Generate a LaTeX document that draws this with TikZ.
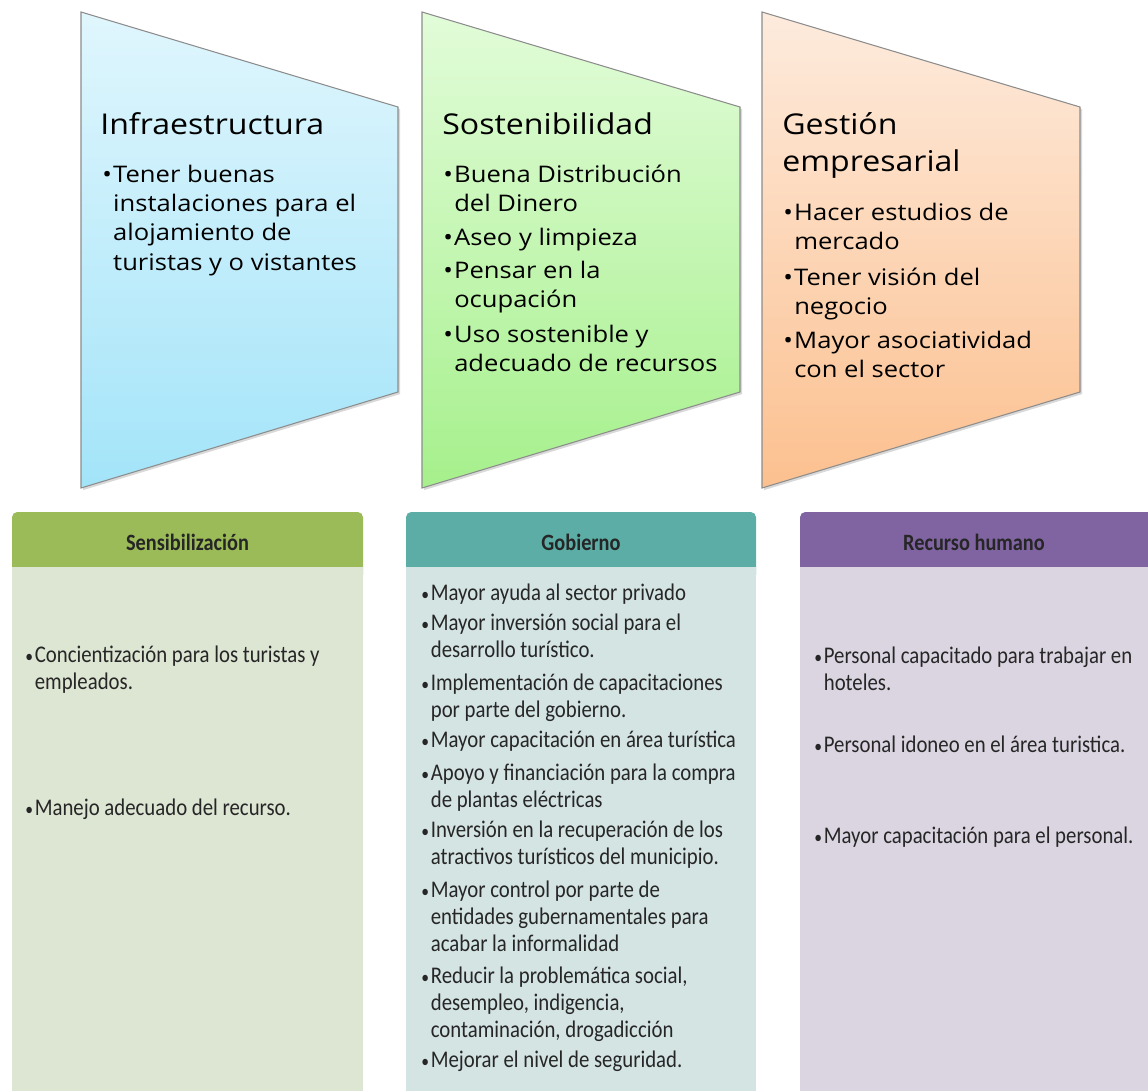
\documentclass[tikz,border=0pt]{standalone}
\usepackage{fontspec}
\usetikzlibrary{shadows,positioning}
\setmainfont{Open Sans}
\newfontfamily\trapfont[FakeStretch=1.12]{Open Sans}
\newfontfamily\boxfont[FakeStretch=0.87]{Carlito}
\definecolor{trapline}{HTML}{8C8C8C}
\definecolor{infratop}{HTML}{E0F6FD}
\definecolor{infrabot}{HTML}{A3E4F9}
\definecolor{sosttop}{HTML}{E2FCD9}
\definecolor{sostbot}{HTML}{A6F08C}
\definecolor{gesttop}{HTML}{FDEBDD}
\definecolor{gestbot}{HTML}{FCC08F}
\definecolor{sensgreen}{HTML}{9BBB59}
\definecolor{sensbody}{HTML}{DDE5D3}
\definecolor{gobteal}{HTML}{5BADA6}
\definecolor{gobbody}{HTML}{D4E4E3}
\definecolor{recpurple}{HTML}{8064A2}
\definecolor{recbody}{HTML}{DBD5E1}
\newcommand{\itm}[2]{\makebox[#1][l]{\textbullet}\begin{tabular}[t]{@{}l@{}}#2\end{tabular}}
\newcommand{\bitm}[1]{\makebox[5.4pt][l]{\scalebox{0.75}{\textbullet}}\begin{tabular}[t]{@{}l@{}}#1\end{tabular}}

\begin{document}
\begin{tikzpicture}[x=0.02cm,y=-0.02cm,
  trap/.style={draw=trapline,line width=0.6pt,
               drop shadow={shadow xshift=1.2pt,shadow yshift=-1.2pt,opacity=.3}},
  ttl/.style={anchor=base west,inner sep=0pt,
              font=\trapfont\fontsize{16.3pt}{21pt}\selectfont},
  txt/.style={anchor=base west,inner sep=0pt,
              font=\trapfont\fontsize{13pt}{16.7pt}\selectfont},
  htxt/.style={anchor=base,inner sep=0pt,text=black!85,
               font=\boxfont\bfseries\fontsize{13.3pt}{15.6pt}\selectfont},
  btxt/.style={anchor=base west,inner sep=0pt,text=black!85,
               font=\boxfont\fontsize{13.6pt}{15.6pt}\selectfont}
]
\useasboundingbox (0,0) rectangle (1148,1091);

% ---- Infraestructura -----------------------------------------
\shadedraw[trap,top color=infratop,bottom color=infrabot]
  (81,12) -- (398,107) -- (398,392) -- (81,488) -- cycle;
\node[ttl] (infra) at (100,135) {Infraestructura};
\node[txt] (infra1) at (102,182)
  {\itm{6.2pt}{Tener buenas\\instalaciones para el\\alojamiento de\\turistas y o vistantes}};

% ---- Sostenibilidad ------------------------------------------
\shadedraw[trap,top color=sosttop,bottom color=sostbot]
  (422,12) -- (740,107) -- (740,392) -- (422,488) -- cycle;
\node[ttl] (sost) at (442,135) {Sostenibilidad};
\node[txt] (sost1) at (443,182) {\itm{6.2pt}{Buena Distribución\\del Dinero}};
\node[txt] (sost2) at (443,245) {\itm{6.2pt}{Aseo y limpieza}};
\node[txt] (sost3) at (443,278) {\itm{6.2pt}{Pensar en la\\ocupación}};
\node[txt] (sost4) at (443,342) {\itm{6.2pt}{Uso sostenible y\\adecuado de recursos}};

% ---- Gestion empresarial -------------------------------------
\shadedraw[trap,top color=gesttop,bottom color=gestbot]
  (762,12) -- (1080,107) -- (1080,392) -- (762,488) -- cycle;
\node[ttl] (gest) at (782,135)
  {\begin{tabular}[t]{@{}l@{}}Gestión\\empresarial\end{tabular}};
\node[txt] (gest1) at (783,220) {\itm{6.2pt}{Hacer estudios de\\mercado}};
\node[txt] (gest2) at (783,285) {\itm{6.2pt}{Tener visión del\\negocio}};
\node[txt] (gest3) at (783,348) {\itm{6.2pt}{Mayor asociatividad\\con el sector}};

% ---- Sensibilizacion -----------------------------------------
\fill[sensgreen,rounded corners=3pt] (12,512) rectangle (363,580);
\fill[sensbody] (12,567) rectangle (363,1091);
\node[htxt] (sens) at (187.5,550) {Sensibilización};
\node[btxt] (sens1) at (25,662)
  {\bitm{Concientización para los turistas y\\empleados.}};
\node[btxt] (sens2) at (25,815) {\bitm{Manejo adecuado del recurso.}};

% ---- Gobierno ------------------------------------------------
\fill[gobteal,rounded corners=3pt] (406,512) rectangle (756,580);
\fill[gobbody] (406,567) rectangle (756,1091);
\node[htxt] (gob) at (581,550) {Gobierno};
\node[btxt] (gob1) at (421,600) {\bitm{Mayor ayuda al sector privado}};
\node[btxt] (gob2) at (421,630)
  {\bitm{Mayor inversión social para el\\desarrollo turístico.}};
\node[btxt] (gob3) at (421,690)
  {\bitm{Implementación de capacitaciones\\por parte del gobierno.}};
\node[btxt] (gob4) at (421,747) {\bitm{Mayor capacitación en área turística}};
\node[btxt] (gob5) at (421,780)
  {\bitm{Apoyo y financiación para la compra\\de plantas eléctricas}};
\node[btxt] (gob6) at (421,837)
  {\bitm{Inversión en la recuperación de los\\atractivos turísticos del municipio.}};
\node[btxt] (gob7) at (421,897)
  {\bitm{Mayor control por parte de\\entidades gubernamentales para\\acabar la informalidad}};
\node[btxt] (gob8) at (421,983)
  {\bitm{Reducir la problemática social,\\desempleo, indigencia,\\contaminación, drogadicción}};
\node[btxt] (gob9) at (421,1067) {\bitm{Mejorar el nivel de seguridad.}};

% ---- Recurso humano ------------------------------------------
\fill[recpurple,rounded corners=3pt] (800,512) rectangle (1160,580);
\fill[recbody] (800,567) rectangle (1160,1091);
\node[htxt] (rec) at (974,550) {Recurso humano};
\node[btxt] (rec1) at (814,663)
  {\bitm{Personal capacitado para trabajar en\\hoteles.}};
\node[btxt] (rec2) at (814,752) {\bitm{Personal idoneo en el área turistica.}};
\node[btxt] (rec3) at (814,843) {\bitm{Mayor capacitación para el personal.}};

\end{tikzpicture}
\end{document}
